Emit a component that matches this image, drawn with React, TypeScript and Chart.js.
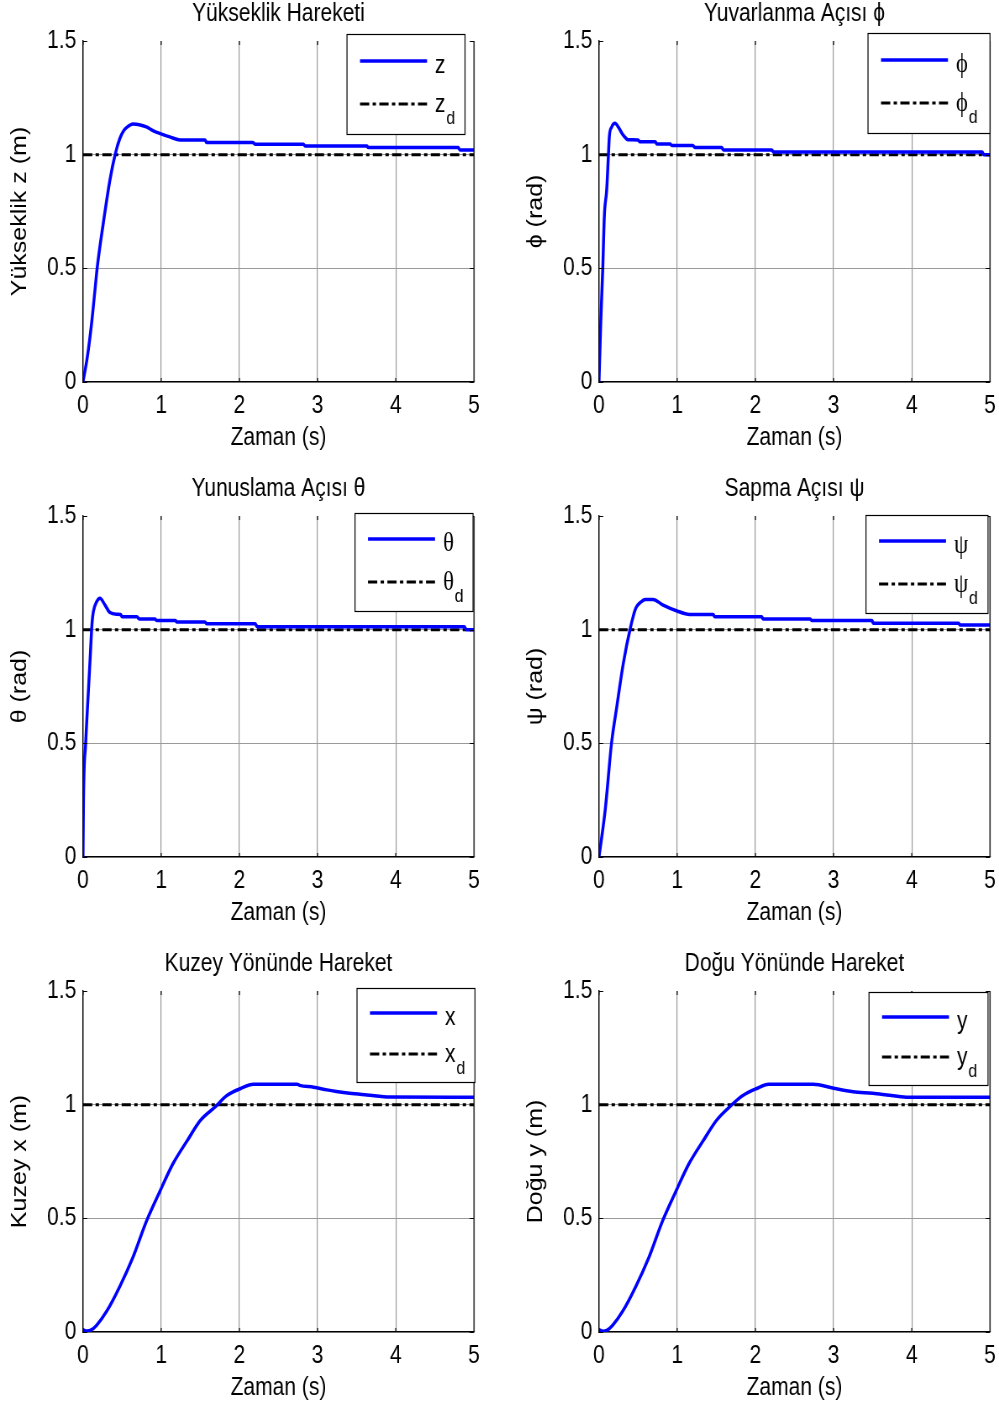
import React, { useEffect, useRef } from "react";
import { Chart, registerables } from "chart.js";

Chart.register(...registerables);

// ---------- data ----------
const xTicks = [0, 1, 2, 3, 4, 5];
const yTicks = [0, 0.5, 1, 1.5];
const referenceLevel = [
  [0, 1],
  [5, 1],
];

const zCurve = [
  [0, 0], [0.055, 0.11], [0.11, 0.26], [0.153, 0.405], [0.183, 0.507], [0.26, 0.7],
  [0.345, 0.89], [0.41, 1.0], [0.47, 1.07], [0.52, 1.105], [0.56, 1.12], [0.64, 1.135],
  [0.72, 1.132], [0.81, 1.122], [0.9, 1.105], [0.98, 1.094], [1.11, 1.078], [1.24, 1.065],
  [1.56, 1.065], [1.58, 1.054], [2.17, 1.054], [2.2, 1.046], [2.82, 1.046], [2.84, 1.038],
  [3.63, 1.038], [3.65, 1.031], [4.8, 1.031], [4.82, 1.021], [5, 1.021],
];

const phiCurve = [
  [0, 0], [0.022, 0.26], [0.048, 0.5], [0.068, 0.73], [0.098, 0.845], [0.119, 0.99],
  [0.132, 1.08], [0.16, 1.12], [0.205, 1.138], [0.25, 1.12], [0.3, 1.09], [0.35, 1.07],
  [0.37, 1.066], [0.5, 1.065], [0.52, 1.057], [0.72, 1.057], [0.74, 1.047], [0.91, 1.047],
  [0.93, 1.04], [1.2, 1.04], [1.23, 1.031], [1.57, 1.031], [1.59, 1.021], [2.21, 1.021],
  [2.23, 1.012], [4.9, 1.012], [4.92, 1.0], [5, 1.0],
];

const thetaCurve = [
  [0, 0], [0.006, 0.25], [0.034, 0.5], [0.06, 0.676], [0.09, 0.867], [0.115, 1.028],
  [0.132, 1.079], [0.175, 1.123], [0.217, 1.138], [0.28, 1.109], [0.345, 1.075],
  [0.43, 1.068], [0.48, 1.067], [0.5, 1.057], [0.69, 1.057], [0.72, 1.047], [0.92, 1.047],
  [0.94, 1.04], [1.18, 1.04], [1.2, 1.034], [1.56, 1.034], [1.58, 1.026], [2.2, 1.026],
  [2.23, 1.013], [4.88, 1.013], [4.9, 1.0], [5, 1.0],
];

const psiCurve = [
  [0, 0], [0.08, 0.21], [0.16, 0.5], [0.227, 0.66], [0.31, 0.85], [0.4, 1.006],
  [0.47, 1.094], [0.53, 1.12], [0.59, 1.133], [0.69, 1.133], [0.82, 1.108], [0.99, 1.083],
  [1.16, 1.067], [1.46, 1.067], [1.48, 1.057], [2.08, 1.057], [2.1, 1.047], [2.7, 1.047],
  [2.72, 1.04], [3.49, 1.04], [3.51, 1.028], [4.6, 1.028], [4.62, 1.02], [5, 1.02],
];

const xCurve = [
  [0, 0.01], [0.05, 0.004], [0.1, 0.008], [0.175, 0.03], [0.3, 0.09], [0.47, 0.2],
  [0.64, 0.33], [0.815, 0.49], [0.985, 0.62], [1.15, 0.74], [1.33, 0.84], [1.5, 0.93],
  [1.69, 0.99], [1.84, 1.04], [2.01, 1.07], [2.18, 1.09], [2.74, 1.09], [2.77, 1.085],
  [2.95, 1.077], [3.12, 1.065], [3.24, 1.058], [3.41, 1.05], [3.63, 1.043], [3.93, 1.034],
  [5, 1.033],
];

const yCurve = [
  [0, 0.01], [0.05, 0.003], [0.1, 0.007], [0.175, 0.03], [0.3, 0.09], [0.47, 0.2],
  [0.64, 0.33], [0.815, 0.49], [0.985, 0.62], [1.15, 0.74], [1.33, 0.84], [1.5, 0.93],
  [1.7, 1.0], [1.84, 1.04], [2.01, 1.07], [2.17, 1.09], [2.74, 1.09], [3.0, 1.072],
  [3.25, 1.057], [3.5, 1.05], [3.68, 1.043], [3.93, 1.033], [5, 1.033],
];

const panelTitles = [
  "Yükseklik Hareketi",
  "Yuvarlanma Açısı ϕ",
  "Yunuslama Açısı θ",
  "Sapma Açısı ψ",
  "Kuzey Yönünde Hareket",
  "Doğu Yönünde Hareket",
];
const yAxisTitles = ["Yükseklik z (m)", "ϕ (rad)", "θ (rad)", "ψ (rad)", "Kuzey x (m)", "Doğu y (m)"];
const legendSymbols = ["z", "ϕ", "θ", "ψ", "x", "y"];
const xAxisTitle = "Zaman (s)";
const curves = [zCurve, phiCurve, thetaCurve, psiCurve, xCurve, yCurve];

// ---------- style / layout ----------
const FONT = "'Liberation Sans', Arial, 'DejaVu Sans', sans-serif";
const SERIF = "'Liberation Serif', 'DejaVu Serif', serif";
const SX = 0.84; // horizontal squeeze of the original figure
const FS = 25;
const DASH_DOT = [11, 4, 4, 4];
const CANVAS_W = Math.round(557 / SX);
const CANVAS_H = 456;
const AXIS_W = 83 / SX;
const colLefts = [0, 516];
const rowTops = [0, 475, 950];
// legend boxes in page pixels, relative to the panel's column / row origin
const legendBoxes = [
  { left: 347, top: 34, right: 465, bottom: 134 },
  { left: 352, top: 33, right: 474, bottom: 133 },
  { left: 355, top: 38, right: 473, bottom: 136 },
  { left: 350, top: 40, right: 472, bottom: 138 },
  { left: 357, top: 38, right: 475, bottom: 132 },
  { left: 353, top: 42, right: 472, bottom: 135 },
];

function makeFramePlugin(idx: number) {
  return {
    id: "frame" + idx,
    afterDatasetsDraw(chart: any) {
      const { ctx, chartArea, scales } = chart;
      const { left, right, top, bottom } = chartArea;
      ctx.save();
      ctx.strokeStyle = "#000";
      ctx.lineWidth = 1.2;
      ctx.beginPath();
      ctx.moveTo(right, top);
      ctx.lineTo(right, bottom);
      xTicks.forEach((v) => {
        const px = scales.x.getPixelForValue(v);
        ctx.moveTo(px, bottom);
        ctx.lineTo(px, bottom - 4);
        ctx.moveTo(px, top);
        ctx.lineTo(px, top + 4);
      });
      yTicks.forEach((v) => {
        const py = Math.round(scales.y.getPixelForValue(v)) + 0.5;
        ctx.moveTo(left, py);
        ctx.lineTo(left + 5, py);
        ctx.moveTo(right, py);
        ctx.lineTo(right - 5, py);
      });
      ctx.stroke();
      ctx.restore();
    },
    afterDraw(chart: any) {
      const { ctx } = chart;
      const b = legendBoxes[idx];
      const L = b.left / SX;
      const R = b.right / SX;
      const w = R - L;
      const h = b.bottom - b.top;
      ctx.save();
      ctx.fillStyle = "#fff";
      ctx.fillRect(L, b.top, w, h);
      ctx.strokeStyle = "#000";
      ctx.lineWidth = 1.2;
      ctx.strokeRect(L, b.top + 0.5, w, h);
      const y1 = Math.round(b.top + h * 0.27);
      const y2 = Math.round(b.top + h * 0.7);
      const x0 = L + 13 / SX;
      const x1 = L + 80 / SX;
      ctx.lineWidth = 3.5;
      ctx.strokeStyle = "#0000ff";
      ctx.beginPath();
      ctx.moveTo(x0, y1);
      ctx.lineTo(x1, y1);
      ctx.stroke();
      ctx.lineWidth = 3;
      ctx.strokeStyle = "#000";
      ctx.setLineDash(DASH_DOT);
      ctx.beginPath();
      ctx.moveTo(x0, y2);
      ctx.lineTo(x1, y2);
      ctx.stroke();
      ctx.setLineDash([]);
      const sym = legendSymbols[idx];
      const isGreek = /[^a-z]/.test(sym);
      ctx.fillStyle = "#000";
      ctx.textBaseline = "alphabetic";
      ctx.textAlign = "left";
      ctx.font = `${isGreek ? FS + 2 : FS}px ${isGreek ? SERIF : FONT}`;
      const lx = L + 88 / SX;
      ctx.fillText(sym, lx, y1 + 12);
      ctx.fillText(sym, lx, y2 + 8);
      const sw = ctx.measureText(sym).width;
      ctx.font = `19px ${FONT}`;
      ctx.fillText("d", lx + sw + 1, y2 + 20);
      ctx.restore();
    },
  };
}

function Panel({ idx }: { idx: number }) {
  const ref = useRef<HTMLCanvasElement>(null);
  useEffect(() => {
    const tickFont = { family: FONT, size: FS };
    const chart = new Chart(ref.current as HTMLCanvasElement, {
      type: "line",
      data: {
        datasets: [
          {
            data: curves[idx].map(([x, y]) => ({ x, y })),
            borderColor: "#0000ff",
            borderWidth: 3.5,
            pointRadius: 0,
            cubicInterpolationMode: "monotone",
            fill: false,
            borderJoinStyle: "round",
          },
          {
            data: referenceLevel.map(([x, y]) => ({ x, y })),
            borderColor: "#000000",
            borderWidth: 3,
            borderDash: DASH_DOT,
            pointRadius: 0,
            fill: false,
          },
        ],
      },
      options: {
        animation: false,
        responsive: false,
        maintainAspectRatio: false,
        devicePixelRatio: 1,
        events: [],
        layout: { padding: 0 },
        plugins: {
          legend: { display: false },
          tooltip: { enabled: false },
          title: {
            display: true,
            text: panelTitles[idx],
            color: "#000",
            font: { family: FONT, size: FS, weight: "normal", lineHeight: 1 },
            padding: { top: 2, bottom: 14 },
          },
        },
        scales: {
          x: {
            type: "linear",
            min: 0,
            max: 5,
            afterBuildTicks: (s: any) => {
              s.ticks = xTicks.map((v) => ({ value: v }));
            },
            afterFit: (s: any) => {
              s.height = 74;
              s.paddingLeft = 0;
              s.paddingRight = 0;
            },
            ticks: {
              color: "#000",
              font: tickFont,
              padding: 9,
              maxRotation: 0,
              autoSkip: false,
              callback: (v: any) => String(v),
            },
            grid: {
              color: "#9a9a9a",
              lineWidth: 1.2,
              drawTicks: false,
            },
            border: { display: true, color: "#000", width: 1.2 },
            title: {
              display: true,
              text: xAxisTitle,
              color: "#000",
              font: { family: FONT, size: FS },
              padding: { top: 0, bottom: 3 },
            },
          },
          y: {
            type: "linear",
            position: "left",
            min: 0,
            max: 1.5,
            afterBuildTicks: (s: any) => {
              s.ticks = yTicks.map((v) => ({ value: v }));
            },
            afterFit: (s: any) => {
              s.width = AXIS_W;
              s.paddingTop = 0;
              s.paddingBottom = 0;
            },
            ticks: {
              color: "#000",
              font: tickFont,
              padding: 8,
              callback: (v: any) => String(v),
            },
            grid: {
              color: (c: any) => (c.tick && c.tick.value === 1.5 ? "rgba(0,0,0,0)" : "#9a9a9a"),
              lineWidth: 1,
              drawTicks: false,
            },
            border: { display: true, color: "#000", width: 1.4 },
            title: {
              display: true,
              text: yAxisTitles[idx],
              color: "#000",
              font: { family: FONT, size: FS },
              padding: { top: 8.8, bottom: 0 },
            },
          },
          yRight: {
            type: "linear",
            position: "right",
            min: 0,
            max: 1.5,
            display: true,
            afterFit: (s: any) => {
              s.width = AXIS_W;
              s.paddingTop = 0;
              s.paddingBottom = 0;
            },
            ticks: { display: false },
            grid: { display: false, drawTicks: false },
            border: { display: false },
          },
        },
      } as any,
      plugins: [makeFramePlugin(idx)],
    });
    return () => chart.destroy();
  }, [idx]);
  const col = idx % 2;
  const row = Math.floor(idx / 2);
  return (
    <canvas
      ref={ref}
      width={CANVAS_W}
      height={CANVAS_H}
      style={{
        position: "absolute",
        left: colLefts[col],
        top: rowTops[row],
        width: CANVAS_W,
        height: CANVAS_H,
        transform: `scaleX(${SX})`,
        transformOrigin: "0 0",
      }}
    />
  );
}

export default function App() {
  return (
    <div
      style={{
        position: "absolute",
        left: 0,
        top: 0,
        width: 999,
        height: 1406,
        overflow: "hidden",
        background: "#fff",
      }}
    >
      {[0, 1, 2, 3, 4, 5].map((i) => (
        <Panel key={i} idx={i} />
      ))}
    </div>
  );
}
